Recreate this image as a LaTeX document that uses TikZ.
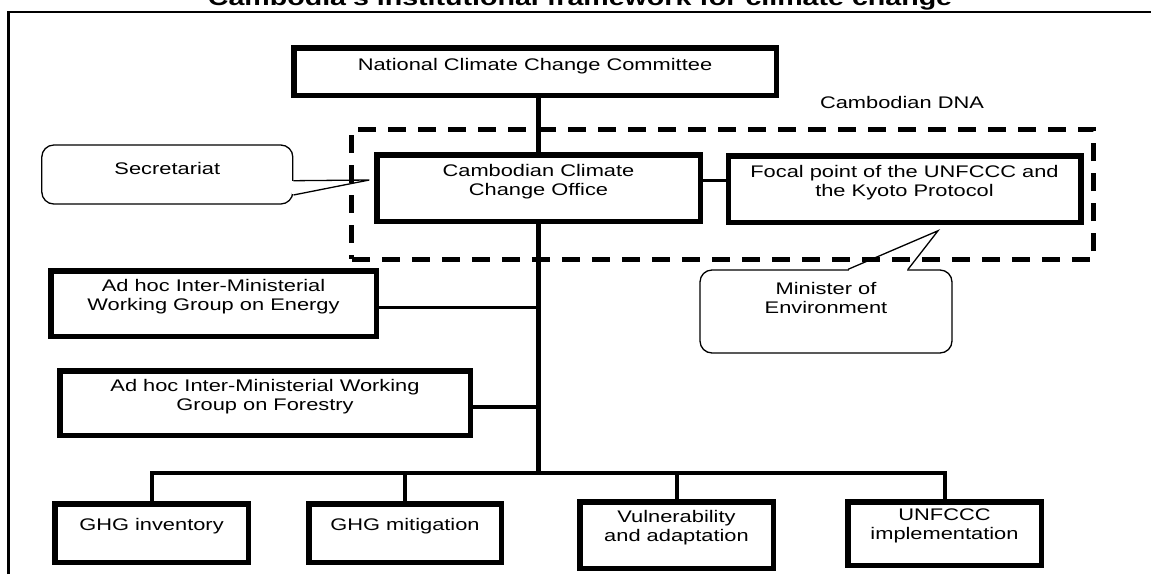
\documentclass[tikz,border=0pt]{standalone}
\usepackage{fontspec}
\setmainfont{Liberation Sans}[FakeStretch=1.3]
\usetikzlibrary{positioning,calc}

% text sits a little high in every box
\newcommand{\lifted}[2][6pt]{\raisebox{#1}[\height][\depth]{\begin{tabular}{@{}c@{}}#2\end{tabular}}}

\begin{document}
\begin{tikzpicture}[x=1pt,y=-1pt,
  every node/.style={font=\fontsize{16.8}{19}\selectfont, inner sep=0pt},
  orgbox/.style 2 args={draw, line width=5.5pt, minimum width=#1, minimum height=#2},
  bubble/.style 2 args={draw, line width=1.3pt, rounded corners=12pt, minimum width=#1, minimum height=#2},
  pointer/.style={line width=1.3pt, line join=miter},
  trunk/.style={line width=5pt},
  link/.style={line width=#1},
  dnabox/.style={draw, line width=5pt, dash pattern=on 18pt off 12pt, minimum width=742pt, minimum height=130pt},
  heading/.style={font=\fontsize{22}{26}\selectfont\bfseries, anchor=base}]
  \useasboundingbox (0,0) rectangle (1151,574);

  % page frame and title
  \draw[line width=2.3pt] (8.4,574) -- (8.4,12) -- (1151,12);
  \node[heading] (title) at (580,5) {Cambodia's institutional framework for climate change};

  % DNA group
  \node[dnabox] (dna) at (722.9,194) {};
  \node (dnalabel) at (902,102) {Cambodian DNA};

  % boxes
  \node[orgbox={482.5pt}{47.5pt}] (nccc) at (535,71.5) {\lifted[5pt]{National Climate Change Committee}};
  \node[orgbox={323.5pt}{66.5pt}] (ccco) at (538.5,188) {\lifted{Cambodian Climate\\Change Office}};
  \node[orgbox={352.5pt}{66.5pt}] (focal) at (904.5,189) {\lifted{Focal point of the UNFCCC and\\the Kyoto Protocol}};
  \node[orgbox={325.5pt}{65.5pt}] (energy) at (213.5,303.5) {\lifted{Ad hoc Inter-Ministerial\\Working Group on Energy}};
  \node[orgbox={410.5pt}{64.5pt}] (forestry) at (265,403) {\lifted{Ad hoc Inter-Ministerial Working\\Group on Forestry}};
  \node[orgbox={193.5pt}{58.5pt}] (inv) at (151.5,533) {\lifted{GHG inventory}};
  \node[orgbox={192.5pt}{58.5pt}] (mit) at (405,533) {\lifted{GHG mitigation}};
  \node[orgbox={193.5pt}{66.5pt}] (vul) at (676.5,535) {\lifted[7pt]{Vulnerability\\and adaptation}};
  \node[orgbox={193.5pt}{63.5pt}] (unf) at (944.5,533.5) {\lifted[7pt]{UNFCCC\\implementation}};

  % connectors
  \coordinate (bus) at (538.5,473);
  \draw[trunk] (ccco.north) -- (ccco.north |- nccc.south);
  \draw[trunk] (ccco.south) -- ($(bus)+(0,2)$);
  \draw[link=3pt] ([yshift=8pt]ccco.east) -- ([yshift=8pt]ccco.east -| focal.west);
  \draw[link=2.5pt] ([yshift=-4pt]energy.east) -- ([yshift=-4pt]energy.east -| bus);
  \draw[link=4pt] ([yshift=-4pt]forestry.east) -- ([yshift=-4pt]forestry.east -| bus);
  \draw[link=4pt] (inv.north) -- (inv.north |- bus) -- (unf.north |- bus) -- (unf.north);
  \draw[link=4pt] (mit.north) -- (mit.north |- bus);
  \draw[link=4pt] (vul.north) -- (vul.north |- bus);

  % callouts
  \node[bubble={251pt}{59pt}] (sec) at (167.3,174.5) {\lifted[3.5pt]{Secretariat}};
  \coordinate (sectip) at ($(ccco.west)+(-4.75,-8)$);
  \fill[white] ($(sec.east)+(-1.5,6.8)$) rectangle ($(sec.east)+(1,19.9)$);
  \draw[pointer] ($(sec.east)+(0,6.2)$) -- (sectip) -- ($(sec.east)+(0,20.5)$);

  \node[bubble={252pt}{83pt}] (minister) at (826,311.5) {\lifted[11pt]{Minister of\\Environment}};
  \coordinate (mintip) at ($(focal.south)+(33.5,5.75)$);
  \fill[white] ($(minister.north)+(22.6,-1)$) rectangle ($(minister.north)+(81.4,1.5)$);
  \draw[pointer] ($(minister.north)+(22,0)$) -- (mintip) -- ($(minister.north)+(82,0)$);
\end{tikzpicture}
\end{document}
